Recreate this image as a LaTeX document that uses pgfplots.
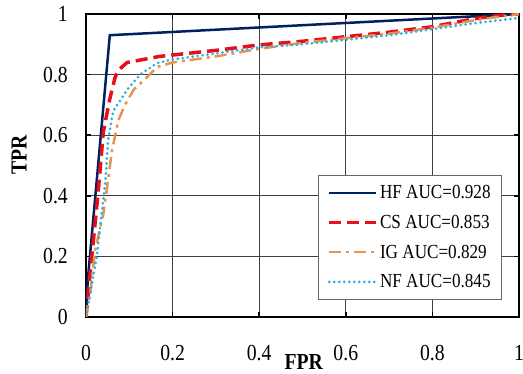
\documentclass[border=0pt]{standalone}
\usepackage{fontspec}
\setmainfont[FakeStretch=0.86]{Liberation Serif}
\usepackage{pgfplots}
\pgfplotsset{compat=1.18}
\definecolor{hfc}{RGB}{0,32,96}
\definecolor{csc}{RGB}{230,16,26}
\definecolor{igc}{RGB}{232,148,80}
\definecolor{nfc}{RGB}{40,176,228}
\begin{document}
\begin{tikzpicture}
\begin{axis}[
  scale only axis, width=433bp, height=303bp,
  xmin=0, xmax=1, ymin=0, ymax=1,
  xtick={0,0.2,0.4,0.6,0.8,1}, ytick={0,0.2,0.4,0.6,0.8,1},
  xticklabels={0,0.2,0.4,0.6,0.8,1}, yticklabels={0,0.2,0.4,0.6,0.8,1},
  /pgf/number format/assume math mode=true,
  tick label style={font=\fontsize{23}{27}\selectfont},
  xticklabel style={anchor=center, inner sep=0pt, yshift=-36bp},
  yticklabel style={anchor=east, inner sep=0pt, xshift=-18bp},
  tick align=inside, major tick length=5bp,
  tick style={line width=1.5bp, black},
  grid=major, grid style={line width=0.9bp, black!75},
  axis line style={line width=2.5bp, black},
  xlabel={\textbf{FPR}}, ylabel={\textbf{TPR}},
  label style={font=\fontsize{23}{27}\selectfont},
  xlabel style={at={([yshift=-45bp]axis description cs:0.503,0)}, anchor=center},
  ylabel style={at={([xshift=-67bp]axis description cs:0,0.535)}, anchor=center, rotate=0},
  legend cell align=left,
  legend style={at={(0.961,0.469)}, anchor=north east, draw=black!60, line width=1bp, fill=white,
    font=\fontsize{20}{24}\selectfont, row sep=11bp, inner xsep=9bp, inner ysep=8bp},
  legend image code/.code={\draw[#1] (0bp,0bp) -- (47bp,0bp);},
]
\addplot[hfc, line width=2.5bp] coordinates {(0,0) (0.004,0.12) (0.055,0.93) (1,1)};
\addlegendentry{HF AUC=0.928}
\addplot[csc, line width=3.5bp, dash pattern=on 12bp off 6bp] coordinates {
(0,0) (0.01,0.15) (0.028,0.41) (0.04,0.61) (0.055,0.72) (0.067,0.79) (0.075,0.815) (0.095,0.84)
(0.17,0.86) (0.3,0.88) (0.4,0.898) (0.5,0.91) (0.6,0.925) (0.7,0.94) (0.8,0.958) (0.9,0.985) (0.95,0.995) (1,1)};
\addlegendentry{CS AUC=0.853}
\addplot[igc, line width=2.5bp, dash pattern=on 12bp off 5bp on 3bp off 5bp] coordinates {
(0,0) (0.01,0.08) (0.021,0.22) (0.04,0.34) (0.048,0.42) (0.06,0.55) (0.075,0.65) (0.09,0.7) (0.11,0.75) (0.14,0.79) (0.164,0.825)
(0.2,0.84) (0.3,0.86) (0.4,0.885) (0.5,0.905) (0.6,0.92) (0.7,0.935) (0.8,0.955) (0.9,0.98) (1,1)};
\addlegendentry{IG AUC=0.829}
\addplot[nfc, line width=3bp, line cap=round, dash pattern=on 0bp off 5bp] coordinates {
(0,0) (0.01,0.08) (0.025,0.2) (0.032,0.29) (0.045,0.45) (0.051,0.584) (0.063,0.68) (0.095,0.75) (0.125,0.8) (0.164,0.838)
(0.2,0.85) (0.3,0.87) (0.4,0.89) (0.5,0.9) (0.6,0.915) (0.7,0.93) (0.8,0.95) (0.9,0.97) (1,0.987)};
\addlegendentry{NF AUC=0.845}
\end{axis}
\pgfresetboundingbox
\path[use as bounding box] ([xshift=-86bp,yshift=-57bp]current axis.south west) rectangle ([xshift=4bp,yshift=14bp]current axis.north east);
\end{tikzpicture}
\end{document}
